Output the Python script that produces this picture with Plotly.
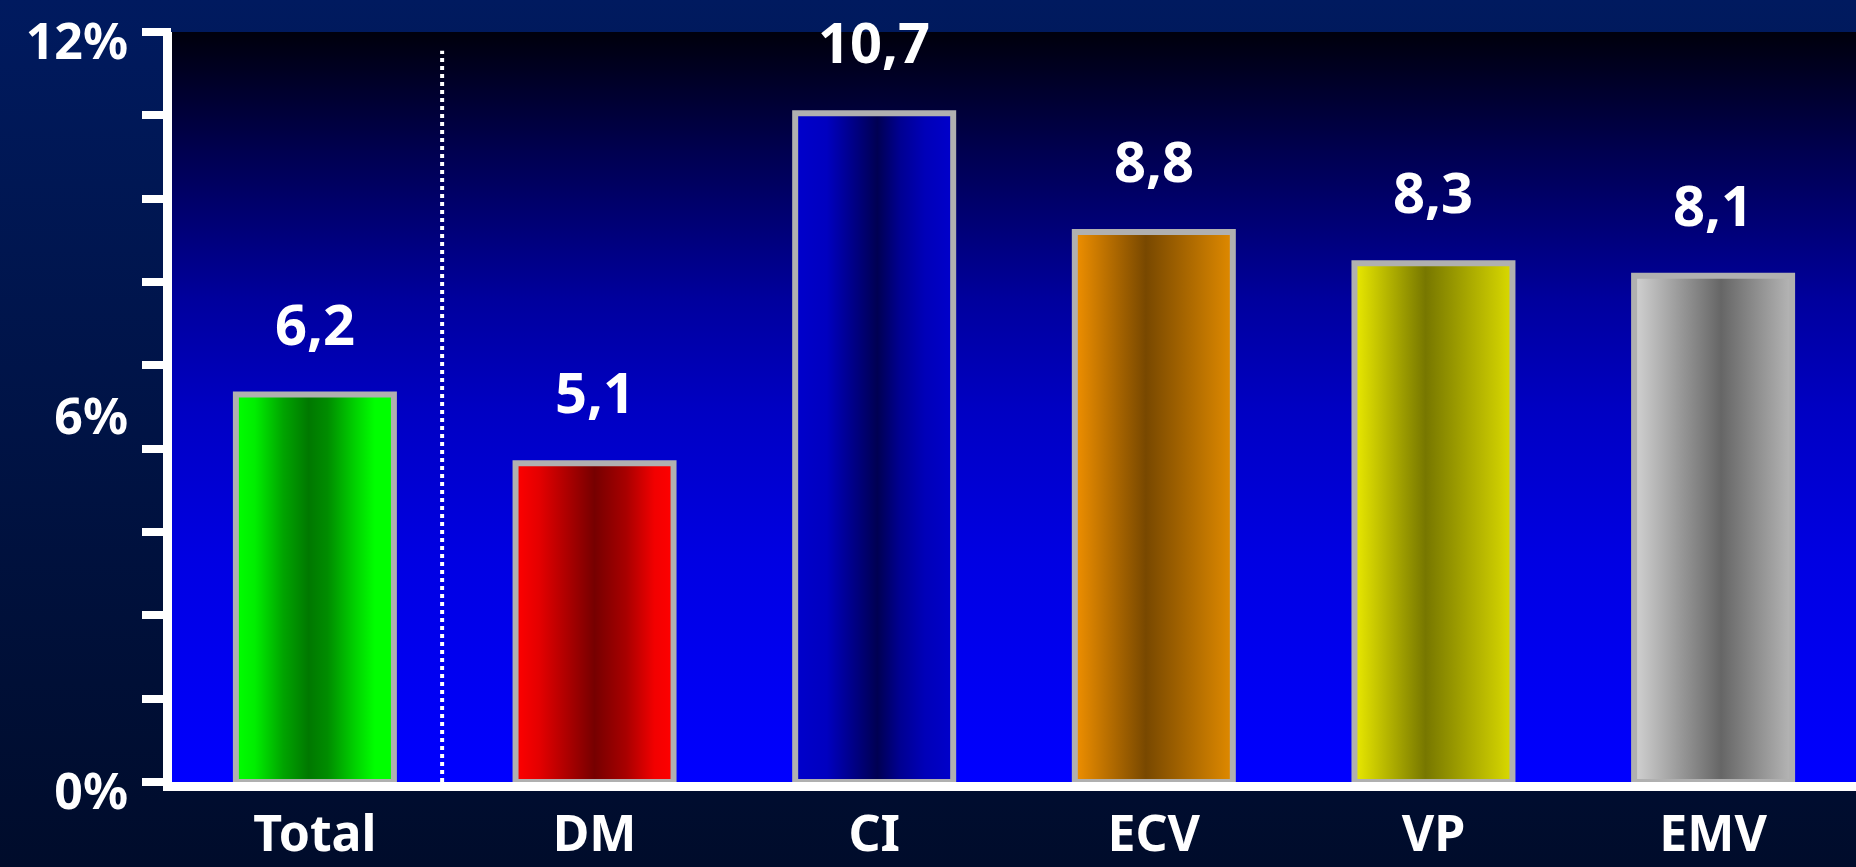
import plotly.graph_objects as go

# ---- data ----
categories = ["Total", "DM", "CI", "ECV", "VP", "EMV"]
values = [6.2, 5.1, 10.7, 8.8, 8.3, 8.1]
y_tick_vals = [0, 6, 12]
y_tick_text = ["0%", "6%", "12%"]

# ---- styling ----
W, H = 1856, 867
LEFT, BOTTOM, TOP = 172, 85, 32
Y_MAX = 12
X_RANGE = [-0.511, 5.511]
BAR_W = 0.565
FONT = "Noto Sans"

bar_colorscales = [
    [[0, "#00ff00"], [0.12, "#00ee00"], [0.30, "#00a400"], [0.46, "#007800"],
     [0.58, "#008c00"], [0.76, "#00d400"], [0.88, "#00ff00"], [1, "#00ff00"]],
    [[0, "#ff0000"], [0.15, "#e40000"], [0.50, "#760000"], [0.70, "#a80000"],
     [0.88, "#f20000"], [1, "#ff0000"]],
    [[0, "#0000cc"], [0.20, "#0000c0"], [0.52, "#000052"], [0.66, "#000090"],
     [0.82, "#0000b8"], [1, "#0000cc"]],
    [[0, "#f09000"], [0.45, "#784800"], [1, "#e08a00"]],
    [[0, "#eaea00"], [0.45, "#777700"], [1, "#dada00"]],
    [[0, "#d2d2d2"], [0.55, "#666666"], [1, "#b6b6b6"]],
]
page_scale = [[0, "#000c2b"], [1, "#001a5f"]]
plot_scale = [[0, "#0000ff"], [0.30, "#0000e2"], [0.50, "#0000c2"], [0.64, "#00009e"],
              [0.84, "#000050"], [1, "#00000c"]]

fig = go.Figure()

# page background
fig.add_trace(go.Scatter(
    x=[0, 1, 1, 0, 0], y=[0, 0, 1, 1, 0], mode="none", fill="toself",
    fillgradient=dict(type="vertical", colorscale=page_scale, start=0, stop=1),
    xaxis="x", yaxis="y", hoverinfo="skip", showlegend=False))

# plot area background
fig.add_trace(go.Scatter(
    x=[X_RANGE[0], X_RANGE[1], X_RANGE[1], X_RANGE[0], X_RANGE[0]],
    y=[0, 0, Y_MAX, Y_MAX, 0], mode="none", fill="toself",
    fillgradient=dict(type="vertical", colorscale=plot_scale, start=0, stop=Y_MAX),
    xaxis="x2", yaxis="y2", hoverinfo="skip", showlegend=False))

# bars with shaded fill and grey frame
annotations = []
for i, (cat, v, cs) in enumerate(zip(categories, values, bar_colorscales)):
    x0, x1 = i - BAR_W / 2, i + BAR_W / 2
    fig.add_trace(go.Scatter(
        x=[x0, x1, x1, x0, x0], y=[0, 0, v, v, 0], mode="lines", fill="toself",
        line=dict(color="#b0b0b0", width=6),
        fillgradient=dict(type="horizontal", colorscale=cs, start=x0, stop=x1),
        xaxis="x2", yaxis="y2", name=cat, hoverinfo="skip", showlegend=False))
    annotations.append(dict(
        x=i, y=v, xref="x2", yref="y2", text=f"{v:.1f}".replace(".", ","),
        showarrow=False, yanchor="bottom", yshift=32,
        font=dict(family=FONT, size=56, color="white", weight="bold")))

# helper trace so the tick-mark axis is rendered
fig.add_trace(go.Scatter(x=[0], y=[0], mode="none", xaxis="x2", yaxis="y3",
                         hoverinfo="skip", showlegend=False))

x_dom = [LEFT / W, 1]
y_dom = [BOTTOM / H, 1 - TOP / H]

fig.update_layout(
    width=W, height=H,
    margin=dict(l=0, r=0, t=0, b=0, autoexpand=False),
    paper_bgcolor="#000e33",
    plot_bgcolor="rgba(0,0,0,0)",
    showlegend=False,
    xaxis=dict(domain=[0, 1], range=[0, 1], visible=False, fixedrange=True,
               automargin=False),
    yaxis=dict(domain=[0, 1], range=[0, 1], visible=False, fixedrange=True,
               automargin=False),
    xaxis2=dict(
        domain=x_dom, anchor="y2", range=X_RANGE, automargin=False,
        tickmode="array", tickvals=list(range(len(categories))), ticktext=categories,
        ticks="", showgrid=False, zeroline=False,
        showline=True, linecolor="white", linewidth=9,
        ticklabelstandoff=0, ticklabeloverflow="allow",
        tickfont=dict(family=FONT, size=50, color="white", weight="bold")),
    yaxis2=dict(
        domain=y_dom, anchor="x2", range=[0, Y_MAX], automargin=False,
        tickmode="array", tickvals=y_tick_vals, ticktext=y_tick_text,
        ticks="", showgrid=False, zeroline=False,
        showline=True, linecolor="white", linewidth=9,
        ticklabelstandoff=25, ticklabelshift=9, ticklabeloverflow="allow",
        tickfont=dict(family=FONT, size=50, color="white", weight="bold")),
    yaxis3=dict(
        overlaying="y2", anchor="x2", side="left", range=[0, Y_MAX], automargin=False,
        tickmode="array", tickvals=[k * Y_MAX / 9 for k in range(10)],
        ticks="outside", ticklen=29, tickwidth=8, tickcolor="white",
        showticklabels=False, showgrid=False, zeroline=False, showline=False),
    annotations=annotations,
    shapes=[dict(type="line", xref="x2", yref="y2", x0=0.455, x1=0.455, y0=0, y1=11.7,
                 line=dict(color="white", width=4, dash="dot"))],
)

fig.write_html("out.html")
